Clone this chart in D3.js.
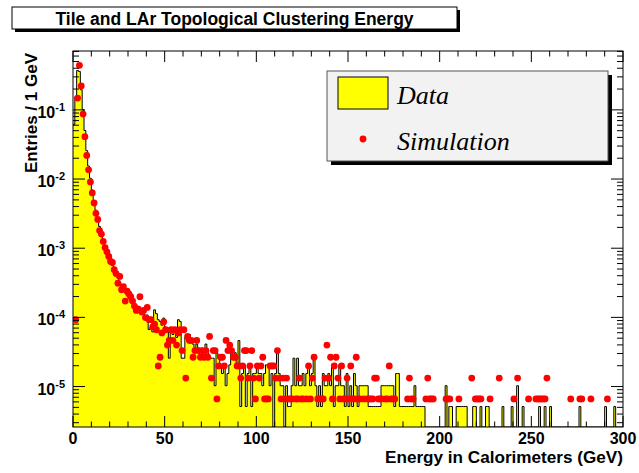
<!DOCTYPE html>
<html>
<head>
<meta charset="utf-8">
<script src="https://cdn.jsdelivr.net/npm/d3@7"></script>
<style>
  body { margin: 0; background: #fff; }
  svg { display: block; }
  text { font-family: "Liberation Sans", Arial, sans-serif; font-weight: bold; fill: #000; }
  .legend-text { font-family: "Liberation Serif", "Times New Roman", serif; font-style: italic; font-weight: normal; }
</style>
</head>
<body>
<svg></svg>
<script>
// entries per 1 GeV bin, bins 0..299
const dataCounts = [
	12000, 30000, 72000, 70000, 38000, 19500, 9800, 5000, 3000, 2000,
	1350, 950, 690, 520, 400, 320, 260, 210, 175, 150,
	130, 110, 95, 82, 72, 63, 55, 50, 45, 41,
	38, 34, 31, 30, 28, 27, 24, 26, 22, 20,
	21, 13, 14, 12, 25, 22, 18, 17, 15, 19,
	14, 12, 5, 12, 11, 13, 10, 18, 17, 5,
	5, 10, 9, 11, 9, 8, 6, 8, 7, 5,
	7, 5, 8, 6, 5, 5, 5, 2, 6, 5,
	4, 3, 4, 2, 3, 4, 6, 5, 6, 4,
	9, 1, 3, 4, 1, 3, 4, 1, 3, 3,
	4, 3, 3, 2, 3, 4, 4, 2, 3, 0,
	3, 6, 3, 2, 2, 0, 2, 1, 1, 2,
	5, 2, 5, 2, 2, 3, 2, 3, 4, 2,
	3, 5, 2, 1, 2, 1, 3, 2, 2, 3,
	2, 4, 1, 2, 2, 4, 2, 2, 1, 3,
	1, 2, 1, 3, 2, 1, 2, 2, 2, 2,
	2, 1, 1, 1, 1, 1, 1, 1, 2, 2,
	2, 2, 2, 2, 2, 1, 3, 3, 1, 1,
	1, 1, 1, 1, 1, 1, 2, 1, 1, 1,
	1, 1, 0, 0, 0, 0, 0, 0, 0, 0,
	0, 0, 0, 2, 0, 1, 1, 0, 0, 1,
	1, 1, 1, 1, 1, 0, 0, 0, 1, 1,
	0, 0, 1, 0, 0, 1, 1, 0, 0, 0,
	0, 0, 0, 0, 1, 0, 0, 0, 0, 1,
	0, 0, 2, 0, 0, 1, 0, 0, 0, 0,
	0, 0, 0, 0, 1, 0, 0, 1, 0, 0,
	1, 0, 0, 0, 0, 0, 0, 0, 0, 0,
	0, 0, 0, 0, 0, 0, 1, 0, 0, 0,
	0, 0, 0, 0, 0, 0, 0, 0, 0, 0,
	1, 0, 0, 0, 0, 1, 0, 0, 0, 0
];
const simCounts = [
	0, 14, 22350, 66440, 33520, 13140, 6190, 3320, 2050, 1370,
	950, 680, 483, 393, 272, 242, 189, 154, 134, 115,
	97, 94, 74, 65, 47, 59, 38, 42, 26, 36,
	33, 30, 26, 22, 19, 20, 30, 18, 19, 15,
	21, 14, 14, 11, 12, 10, 3, 4, 9, 13,
	10, 6, 7, 10, 7, 10, 6, 9, 10, 5,
	10, 2, 8, 7, 7, 4, 5, 7, 5, 4,
	5, 4, 5, 4, 8, 2, 5, 5, 1, 3,
	4, 4, 3, 7, 5, 6, 5, 4, 4, 3,
	3, 2, 3, 5, 5, 2, 3, 5, 2, 1,
	3, 2, 3, 4, 1, 1, 1, 3, 3, 3,
	2, 5, 2, 1, 2, 1, 2, 1, 1, 1,
	0, 1, 1, 2, 1, 1, 0, 1, 3, 1,
	2, 4, 0, 1, 1, 1, 1, 2, 6, 2,
	4, 1, 3, 4, 2, 1, 3, 1, 1, 2,
	1, 3, 1, 1, 4, 1, 1, 0, 1, 0,
	1, 1, 1, 1, 2, 2, 1, 1, 1, 0,
	1, 1, 3, 1, 1, 1, 0, 0, 0, 0,
	0, 0, 1, 2, 1, 1, 0, 0, 0, 0,
	0, 0, 1, 2, 1, 1, 1, 0, 0, 0,
	0, 0, 0, 1, 1, 1, 0, 0, 0, 0,
	1, 0, 0, 0, 0, 0, 0, 2, 0, 1,
	1, 1, 1, 0, 0, 0, 0, 1, 0, 0,
	0, 0, 2, 0, 0, 0, 0, 0, 0, 0,
	1, 0, 2, 0, 0, 0, 0, 0, 1, 0,
	0, 0, 1, 1, 1, 1, 1, 1, 2, 0,
	0, 0, 0, 0, 0, 0, 0, 0, 0, 0,
	0, 1, 0, 0, 0, 0, 1, 1, 0, 0,
	0, 0, 1, 0, 0, 0, 0, 0, 0, 0,
	0, 1, 0, 0, 0, 0, 0, 0, 0, 0
];
const dataTotal = 194600;
const simTotal = 151000;

const xTicks = [0, 50, 100, 150, 200, 250, 300];
const yDecades = [-5, -4, -3, -2, -1];
const legendLabels = ["Data", "Simulation"];

const size = { w: 639, h: 473 };
const frame = { l: 73, r: 623, t: 51, b: 427 };
const svg = d3.select("svg").attr("width", size.w).attr("height", size.h);

const x = d3.scaleLinear().domain([0, 300]).range([frame.l, frame.r]);
const y = d3.scaleLog().domain([2.6e-6, 0.71]).range([frame.b, frame.t]);

svg.append("clipPath").attr("id", "plot-clip")
	.append("rect")
	.attr("x", frame.l).attr("y", frame.t)
	.attr("width", frame.r - frame.l).attr("height", frame.b - frame.t);

// data histogram: points at the bin edges, last bin repeated to close the step
const dataPts = dataCounts.map((c, i) => ({ e: i, v: c / dataTotal }));
dataPts.push({ e: 300, v: dataCounts[299] / dataTotal });
const yv = (v) => (v > 0 ? y(v) : frame.b);

const plotG = svg.append("g").attr("clip-path", "url(#plot-clip)");

plotG.append("path")
	.datum(dataPts)
	.attr("fill", "#ffff00")
	.attr("d", d3.area().curve(d3.curveStepAfter)
		.x((d) => x(d.e)).y0(frame.b).y1((d) => yv(d.v)));

plotG.append("path")
	.datum(dataPts)
	.attr("fill", "none")
	.attr("stroke", "#000")
	.attr("stroke-width", 1)
	.attr("d", d3.line().curve(d3.curveStepAfter)
		.x((d) => x(d.e)).y((d) => yv(d.v)));

// simulation markers
const simPts = simCounts
	.map((c, i) => ({ e: i + 0.5, v: c / simTotal }))
	.filter((d) => d.v > 0);
plotG.append("g")
	.selectAll("circle")
	.data(simPts)
	.join("circle")
	.attr("cx", (d) => x(d.e))
	.attr("cy", (d) => y(d.v))
	.attr("r", 3.4)
	.attr("fill", "#ff0000");

// frame
svg.append("rect")
	.attr("x", frame.l).attr("y", frame.t)
	.attr("width", frame.r - frame.l).attr("height", frame.b - frame.t)
	.attr("fill", "none").attr("stroke", "#000").attr("stroke-width", 1);

// ticks, pointing inward on all four sides
const tickG = svg.append("g").attr("stroke", "#000").attr("stroke-width", 1);
d3.range(0, 301, 10).forEach((e) => {
	const len = e % 50 === 0 ? 11 : 5.5;
	tickG.append("line").attr("x1", x(e)).attr("x2", x(e)).attr("y1", frame.b).attr("y2", frame.b - len);
	tickG.append("line").attr("x1", x(e)).attr("x2", x(e)).attr("y1", frame.t).attr("y2", frame.t + len);
});
const [yLo, yHi] = y.domain();
d3.range(-6, 1).forEach((p) => {
	d3.range(1, 10).forEach((m) => {
		const v = m * Math.pow(10, p);
		if (v < yLo || v > yHi) return;
		const len = m === 1 ? 12 : 6;
		tickG.append("line").attr("x1", frame.l).attr("x2", frame.l + len).attr("y1", y(v)).attr("y2", y(v));
		tickG.append("line").attr("x1", frame.r).attr("x2", frame.r - len).attr("y1", y(v)).attr("y2", y(v));
	});
});

// tick labels
svg.append("g").selectAll("text")
	.data(xTicks)
	.join("text")
	.attr("x", (d) => x(d))
	.attr("y", 444)
	.attr("text-anchor", "middle")
	.attr("font-size", 16)
	.text((d) => d);

const yLab = svg.append("g").selectAll("text")
	.data(yDecades)
	.join("text")
	.attr("x", 65)
	.attr("y", (d) => y(Math.pow(10, d)) + 8)
	.attr("text-anchor", "end")
	.attr("font-size", 16);
yLab.append("tspan").text("10");
yLab.append("tspan").attr("dy", -7).attr("font-size", 11).text((d) => d);

// axis titles
svg.append("text")
	.attr("x", frame.r)
	.attr("y", 463)
	.attr("text-anchor", "end")
	.attr("font-size", 16)
	.attr("textLength", 238)
	.attr("lengthAdjust", "spacingAndGlyphs")
	.text("Energy in Calorimeters (GeV)");
svg.append("text")
	.attr("transform", "translate(36.5, 53) rotate(-90)")
	.attr("text-anchor", "end")
	.attr("font-size", 16)
	.attr("textLength", 120)
	.attr("lengthAdjust", "spacingAndGlyphs")
	.text("Entries / 1 GeV");

// title box with shadow
const titleBox = { x: 12, y: 7, w: 445, h: 22 };
svg.append("rect")
	.attr("x", titleBox.x + 3).attr("y", titleBox.y + 3)
	.attr("width", titleBox.w).attr("height", titleBox.h)
	.attr("fill", "#000");
svg.append("rect")
	.attr("x", titleBox.x).attr("y", titleBox.y)
	.attr("width", titleBox.w).attr("height", titleBox.h)
	.attr("fill", "#fff").attr("stroke", "#000").attr("stroke-width", 1);
svg.append("text")
	.attr("x", titleBox.x + titleBox.w / 2)
	.attr("y", 25)
	.attr("text-anchor", "middle")
	.attr("font-size", 17.5)
	.text("Tile and LAr Topological Clustering Energy");

// legend
const lg = { x: 327, y: 71, w: 281, h: 90 };
svg.append("rect")
	.attr("x", lg.x + 4).attr("y", lg.y + 4)
	.attr("width", lg.w).attr("height", lg.h)
	.attr("fill", "#000");
svg.append("rect")
	.attr("x", lg.x).attr("y", lg.y)
	.attr("width", lg.w).attr("height", lg.h)
	.attr("fill", "#f2f2f2").attr("stroke", "#555").attr("stroke-width", 1);
svg.append("rect")
	.attr("x", 338).attr("y", 77)
	.attr("width", 50).attr("height", 32)
	.attr("fill", "#ffff00").attr("stroke", "#000").attr("stroke-width", 1);
svg.append("circle")
	.attr("cx", 363).attr("cy", 139).attr("r", 3.4).attr("fill", "#ff0000");
svg.append("g").selectAll("text")
	.data(legendLabels)
	.join("text")
	.classed("legend-text", true)
	.attr("x", 397)
	.attr("y", (d, i) => 104 + i * 46)
	.attr("font-size", 26)
	.text((d) => d);
</script>
</body>
</html>
